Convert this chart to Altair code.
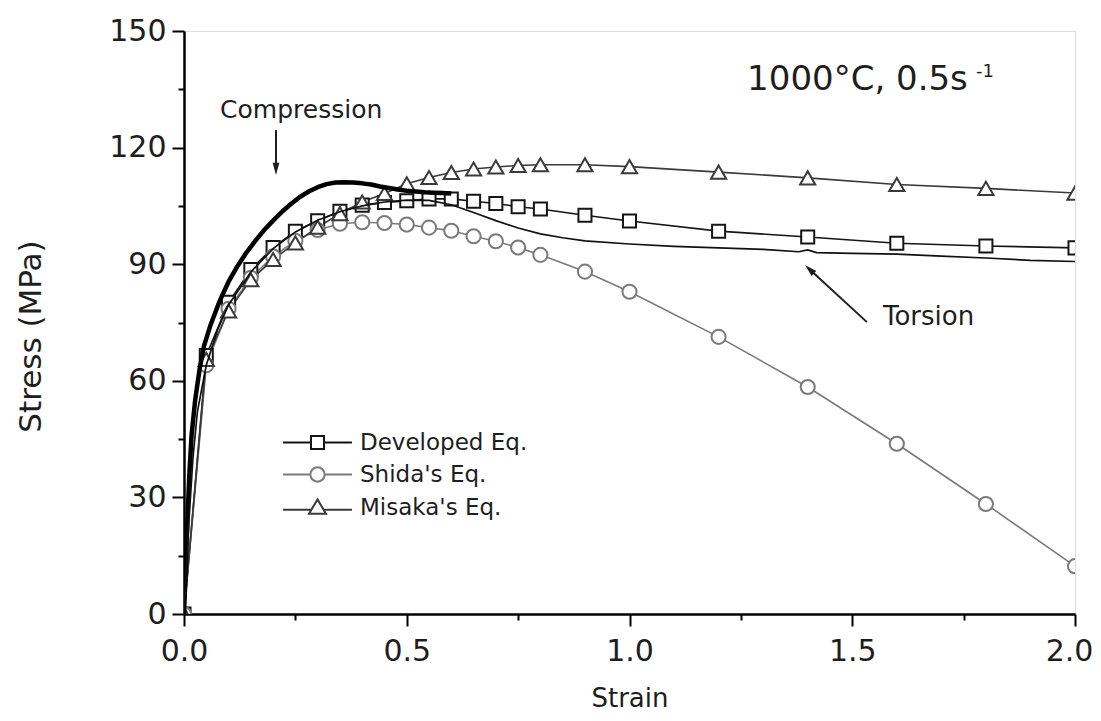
import altair as alt
import pandas as pd

# ---------------- data ----------------
series_names = ["Developed Eq.", "Shida's Eq.", "Misaka's Eq."]

eq_strain = [0.0, 0.05, 0.10, 0.15, 0.20, 0.25, 0.30, 0.35, 0.40, 0.45, 0.50, 0.55,
             0.60, 0.65, 0.70, 0.75, 0.80, 0.90, 1.00, 1.20, 1.40, 1.60, 1.80, 2.00]
developed = [0.0, 66.5, 80.2, 88.6, 94.3, 98.5, 101.2, 103.6, 105.2, 105.9, 106.3, 106.8,
             106.8, 106.2, 105.6, 104.8, 104.2, 102.6, 101.1, 98.5, 97.0, 95.4, 94.7, 94.2]
shida = [0.0, 64.0, 78.5, 86.5, 92.0, 96.0, 98.8, 100.4, 100.8, 100.6, 100.2, 99.4,
         98.6, 97.2, 95.9, 94.3, 92.4, 88.1, 82.9, 71.3, 58.4, 43.8, 28.3, 12.3]
misaka = [0.0, 65.5, 78.0, 86.0, 91.2, 95.5, 99.5, 103.0, 106.0, 108.2, 110.7, 112.3,
          113.6, 114.5, 115.0, 115.4, 115.6, 115.6, 115.1, 113.7, 112.2, 110.5, 109.5, 108.3]

comp_strain = [0.0, 0.004, 0.008, 0.012, 0.017, 0.025, 0.035, 0.045, 0.06, 0.08, 0.10,
               0.12, 0.14, 0.16, 0.18, 0.20, 0.22, 0.24, 0.26, 0.28, 0.30, 0.32, 0.34,
               0.36, 0.38, 0.40, 0.42, 0.44, 0.46, 0.48, 0.50, 0.52, 0.54, 0.56, 0.58, 0.60]
comp_stress = [0.0, 12.0, 25.0, 36.0, 46.0, 55.0, 63.0, 69.0, 74.5, 80.5, 85.5,
               89.5, 93.0, 96.0, 98.8, 101.2, 103.5, 105.5, 107.3, 108.7, 109.8, 110.6, 111.0,
               111.1, 111.0, 110.8, 110.5, 110.0, 109.6, 109.2, 108.9, 108.7, 108.5, 108.4, 108.3, 108.2]

tors_strain = [0.0, 0.01, 0.02, 0.03, 0.05, 0.075, 0.10, 0.15, 0.20, 0.25, 0.30, 0.35,
               0.40, 0.45, 0.50, 0.55, 0.60, 0.65, 0.70, 0.75, 0.80, 0.85, 0.90, 1.00,
               1.10, 1.20, 1.30, 1.38, 1.40, 1.42, 1.50, 1.60, 1.70, 1.80, 1.90, 2.00]
tors_stress = [0.0, 22.0, 40.0, 52.0, 64.0, 73.0, 79.5, 88.0, 94.0, 98.3, 101.3, 103.5,
               105.0, 106.0, 106.5, 106.4, 105.3, 103.3, 101.2, 99.3, 97.8, 96.8, 96.0, 95.2,
               94.6, 94.2, 93.8, 93.2, 93.7, 93.0, 92.8, 92.6, 92.1, 91.6, 91.0, 90.7]

x_ticks = [0.0, 0.25, 0.5, 0.75, 1.0, 1.25, 1.5, 1.75, 2.0]
y_ticks = [0, 15, 30, 45, 60, 75, 90, 105, 120, 135, 150]

# ---------------- tables ----------------
rows = []
for name, vals in zip(series_names, [developed, shida, misaka]):
    for s, v in zip(eq_strain, vals):
        rows.append({"series": name, "strain": s, "stress": v})
eq_df = pd.DataFrame(rows)
comp_df = pd.DataFrame({"strain": comp_strain, "stress": comp_stress})
tors_df = pd.DataFrame({"strain": tors_strain, "stress": tors_stress})

FONT = "DejaVu Sans"
INK = "#1e1e1e"

x_axis = alt.Axis(
    values=x_ticks,
    labelExpr="datum.value % 0.5 == 0 ? format(datum.value, '.1f') : ''",
    tickSize={"condition": {"test": "datum.value % 0.5 != 0", "value": 6}, "value": 12},
    labelOffset={"condition": {"test": "datum.value == 2", "value": -6}, "value": 0},
    tickColor="black", tickWidth=2, domainColor="black", domainWidth=2.5,
    labelFont=FONT, labelFontSize=30, labelColor=INK, labelPadding=10,
    labelOverlap=False, labelFlush=False,
    title="Strain", titleFont=FONT, titleFontSize=26, titleFontWeight="normal",
    titleColor=INK, titleY=92, titleBaseline="alphabetic", grid=False,
)
y_axis = alt.Axis(
    values=y_ticks,
    labelExpr="datum.value % 30 == 0 ? datum.label : ''",
    tickSize={"condition": {"test": "datum.value % 30 != 0", "value": 6}, "value": 12},
    tickColor="black", tickWidth=2, domainColor="black", domainWidth=2.5,
    labelFont=FONT, labelFontSize=30, labelColor=INK, labelPadding=6,
    labelOverlap=False, labelFlush=False,
    title="Stress (MPa)", titleFont=FONT, titleFontSize=31, titleFontWeight="normal",
    titleColor=INK, titleX=-153, titleY=305, titleBaseline="middle", titleAngle=-90,
    grid=False,
)
xs = alt.Scale(domain=[0, 2], nice=False, zero=False)
ys = alt.Scale(domain=[0, 150], nice=False, zero=False)
X = alt.X("strain:Q", scale=xs, axis=x_axis)
Y = alt.Y("stress:Q", scale=ys, axis=y_axis)

stroke_scale = alt.Scale(domain=series_names, range=["#151515", "#7a7a7a", "#3a3a3a"])

eq_lines = alt.Chart(eq_df).mark_line(strokeWidth=1.6, clip=True).encode(
    x=X, y=Y,
    stroke=alt.Stroke("series:N", scale=stroke_scale, legend=None),
    detail="series:N",
)

eq_points = alt.Chart(eq_df).mark_point(fill="white", filled=False, strokeWidth=2,
                                        opacity=1, clip=True).encode(
    x=X, y=Y,
    stroke=alt.Stroke("series:N", scale=stroke_scale, legend=None),
    shape=alt.Shape("series:N", scale=alt.Scale(domain=series_names,
                    range=["square", "circle", "triangle-up"]), legend=None),
    size=alt.Size("series:N", scale=alt.Scale(domain=series_names, range=[170, 230, 200]),
                  legend=None),
)

comp_line = alt.Chart(comp_df).mark_line(color="black", strokeWidth=4.5, strokeJoin="round",
                                         clip=True).encode(x=X, y=Y)
tors_line = alt.Chart(tors_df).mark_line(color="#111111", strokeWidth=1.7, clip=True).encode(x=X, y=Y)

# ---------------- annotations ----------------
comp_lab = pd.DataFrame({"strain": [0.263], "stress": [129.7], "label": ["Compression"]})
tors_lab = pd.DataFrame({"strain": [1.569], "stress": [76.4], "label": ["Torsion"]})
t_comp = alt.Chart(comp_lab).mark_text(font=FONT, fontSize=25, color=INK,
                                       align="center", baseline="middle").encode(
    x=X, y=Y, text="label:N")
t_tors = alt.Chart(tors_lab).mark_text(font=FONT, fontSize=26, color=INK,
                                       align="left", baseline="middle").encode(
    x=X, y=Y, text="label:N")

cond_df = pd.DataFrame({"strain": [1.264], "stress": [134.8], "label": ["1000°C, 0.5s"]})
t_cond = alt.Chart(cond_df).mark_text(font=FONT, fontSize=34, color=INK, align="left",
                                      baseline="alphabetic").encode(x=X, y=Y, text="label:N")
sup_df = pd.DataFrame({"strain": [1.778], "stress": [138.2], "label": ["-1"]})
t_sup = alt.Chart(sup_df).mark_text(font=FONT, fontSize=18, color=INK, align="left",
                                    baseline="alphabetic").encode(x=X, y=Y, text="label:N")

arrow_df = pd.DataFrame({
    "strain": [0.2065, 1.533], "stress": [124.5, 75.1],
    "strain2": [0.2065, 1.404], "stress2": [114.5, 88.7],
})
arrows = alt.Chart(arrow_df).mark_rule(color=INK, strokeWidth=2).encode(
    x=X, y=Y, x2="strain2:Q", y2="stress2:Q")
head_df = pd.DataFrame({"strain": [0.2065, 1.404], "stress": [114.5, 88.7], "ang": [0, 133]})
heads = alt.Chart(head_df).mark_point(shape="M0,1L-0.55,-1L0.55,-1Z", filled=True, color=INK,
                                      size=150, opacity=1).encode(
    x=X, y=Y, angle=alt.Angle("ang:Q", scale=None))

# ---------------- legend (line + marker symbols) ----------------
leg_paths = [
    "M-5.3,0H-1M1,0H5.3M-1,-1H1V1H-1Z",
    "M-5.3,0H-1.1M1.1,0H5.3M1.1,0A1.1,1.1,0,1,1,-1.1,0A1.1,1.1,0,1,1,1.1,0Z",
    "M-5.3,0.35H-1.05M1.05,0.35H5.3M0,-1.25L1.3,0.95L-1.3,0.95Z",
]
leg = alt.Legend(title=None, orient="none", legendX=122, legendY=400,
                 labelFont=FONT, labelFontSize=23, labelColor=INK, labelOffset=31,
                 labelLimit=400,
                 symbolSize=169, symbolStrokeWidth=2, symbolOpacity=1,
                 symbolFillColor="white", rowPadding=8, padding=0)
legend_layer = alt.Chart(eq_df).mark_point(opacity=0, filled=False, strokeWidth=2).encode(
    x=X, y=Y,
    shape=alt.Shape("series:N", scale=alt.Scale(domain=series_names, range=leg_paths),
                    legend=leg, sort=series_names),
    stroke=alt.Stroke("series:N", scale=alt.Scale(domain=series_names,
                      range=["#151515", "#7a7a7a", "#3a3a3a"]), legend=leg, sort=series_names),
)

chart = alt.layer(
    eq_lines, eq_points, comp_line, tors_line, arrows, heads,
    t_comp, t_tors, t_cond, t_sup, legend_layer,
).resolve_scale(
    shape="independent", stroke="independent"
).properties(
    width=891, height=583,
    autosize=alt.AutoSizeParams(type="none"),
    padding={"left": 176, "top": 23, "right": 18, "bottom": 99},
    background="white",
).configure_view(stroke="black", strokeWidth=2.5).configure(font=FONT)

chart.save("out.html", embed_options={"renderer": "svg", "actions": False})
